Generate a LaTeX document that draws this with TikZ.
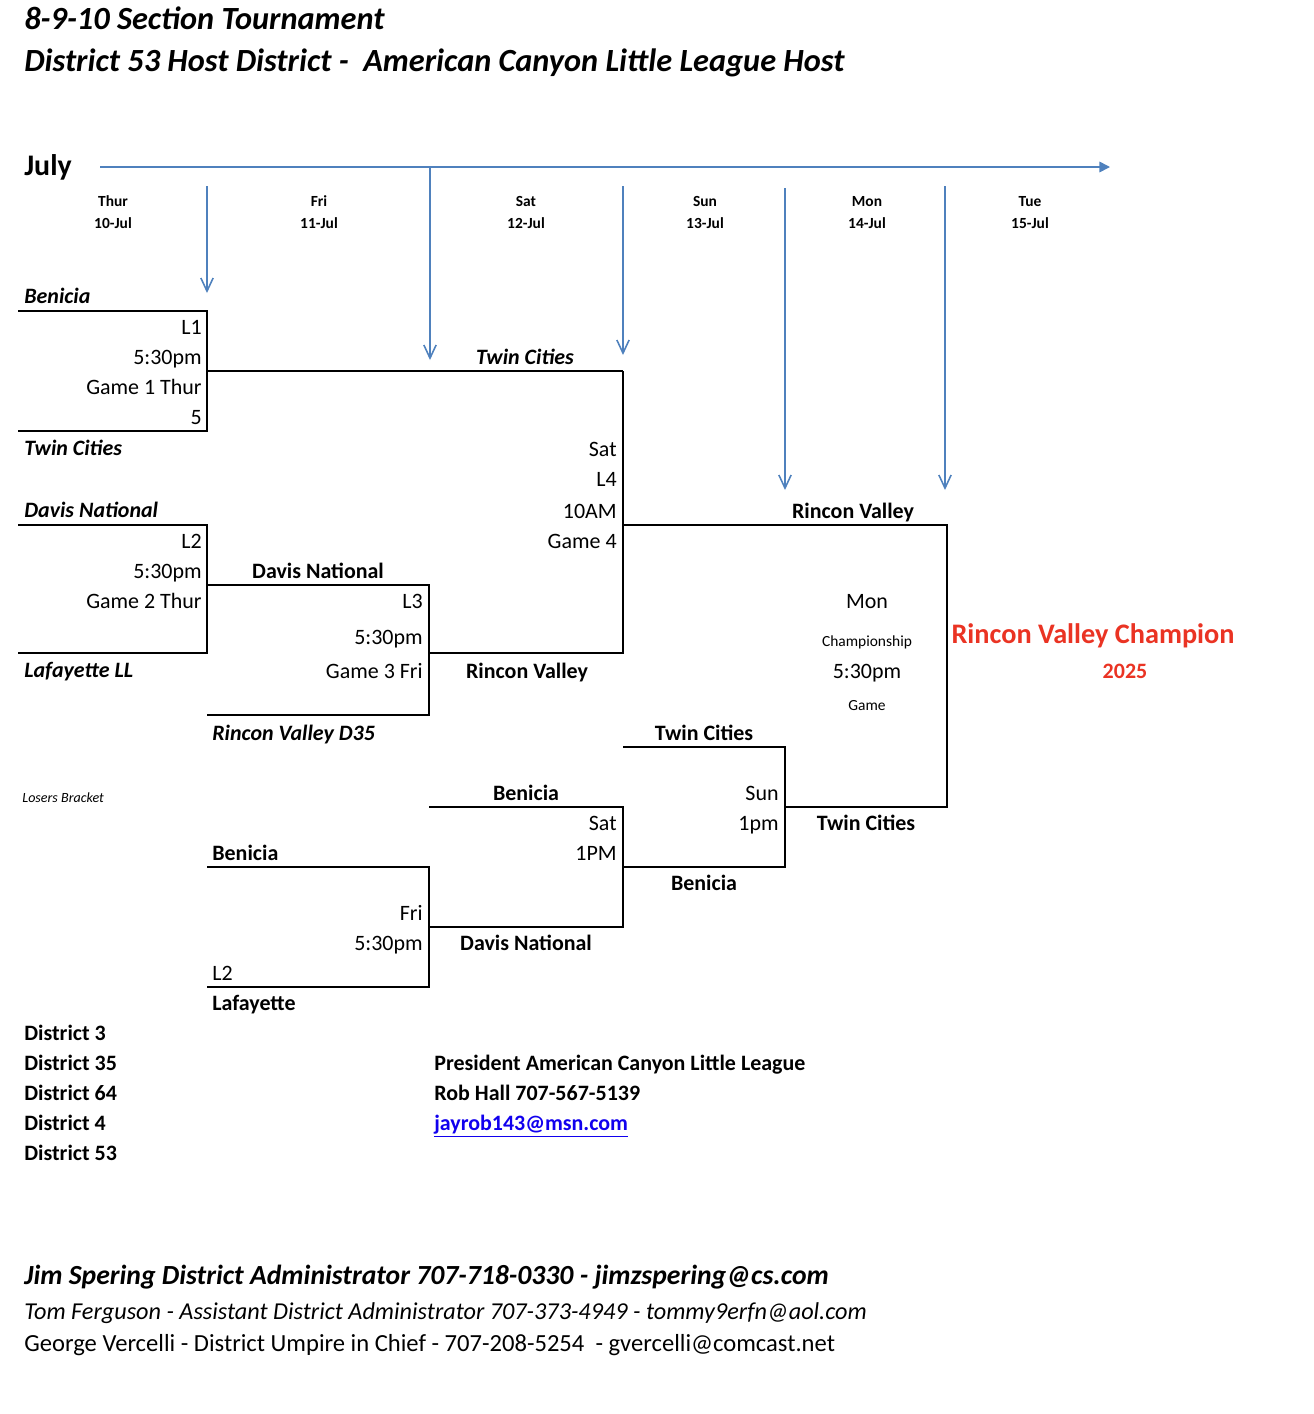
\documentclass[tikz,border=0pt]{standalone}
\usepackage{fontspec}
\setmainfont{Carlito}
\usetikzlibrary{arrows.meta, positioning}
\definecolor{tlblue}{RGB}{79,129,189}
\definecolor{champred}{RGB}{234,51,35}
\definecolor{linkblue}{RGB}{17,0,238}

\begin{document}
\begin{tikzpicture}[x=0.02cm, y=-0.02cm,
    every node/.style={inner sep=0pt, text height=0.82em, text depth=0pt},
    title/.style={font=\fontsize{18.4}{21}\selectfont\bfseries\itshape},
    month/.style={font=\fontsize{17}{20}\selectfont\bfseries},
    day/.style={font=\fontsize{8.8}{10}\selectfont\bfseries},
    txt/.style={font=\fontsize{12.5}{15}\selectfont},
    team/.style={font=\fontsize{12.5}{15}\selectfont\bfseries},
    seed/.style={font=\fontsize{12.5}{15}\selectfont\bfseries\itshape},
    small/.style={font=\fontsize{8.8}{10}\selectfont},
    bracket/.style={line width=1.1pt},
    timeline/.style={draw=tlblue, line width=0.9pt},
    down/.style={timeline, -{Straight Barb[length=7.5pt, width=7pt]}}]
    \useasboundingbox (0,0) rectangle (1314,1414);

    % Title
    \node (title1) [title, anchor=west] at (24,22) {8-9-10 Section Tournament};
    \node (title2) [title, anchor=west] at (24,64) {District 53 Host District -\ \ American Canyon Little League Host};

    % Timeline
    \node (july) [month, anchor=west] at (24,168) {July};
    \coordinate (axisstart) at (100,167);
    \coordinate (axisend) at (1110,167);
    \draw[timeline, -{Triangle[length=6pt, width=6pt]}] (axisstart) -- (axisend);
    \foreach \x/\d/\dt/\nm in {113/Thur/10-Jul/thu, 319/Fri/11-Jul/fri, 526/Sat/12-Jul/sat, 705/Sun/13-Jul/sun, 867/Mon/14-Jul/mon, 1030/Tue/15-Jul/tue} {
        \node (\nm) [day] at (\x,199) {\d};
        \node (\nm date) [day] at (\x,221) {\dt};
    }
    \foreach \x/\a/\b in {207/186/293, 430/167/360, 623/186/355, 785/188/490, 945/186/490}
        \draw[down] (\x,\a) -- (\x,\b);

    % Winners bracket
    \draw[bracket] (18,311) -| (207,431) -- (18,431);
    \draw[bracket] (207,371) -- (623,371);
    \draw[bracket] (18,525) -| (207,653) -- (18,653);
    \draw[bracket] (207,585) -| (429,715) -- (207,715);
    \draw[bracket] (429,653) -| (623,371);
    \draw[bracket] (623,525) -| (947,807) -- (785,807);

    \node (benicia) [seed, anchor=west] at (24,296) {Benicia};
    \node (l1) [txt, anchor=east] at (202,327) {L1};
    \node (g1time) [txt, anchor=east] at (202,357) {5:30pm};
    \node (g1) [txt, anchor=east] at (202,387) {Game 1 Thur};
    \node (g1num) [txt, anchor=east] at (202,417) {5};
    \node (twin) [seed, anchor=west] at (24,448) {Twin Cities};
    \node (g1win) [seed] at (525,357) {Twin Cities};

    \node (davis) [seed, anchor=west] at (24,510) {Davis National};
    \node (l2) [txt, anchor=east] at (202,541) {L2};
    \node (g2time) [txt, anchor=east] at (202,571) {5:30pm};
    \node (g2) [txt, anchor=east] at (202,601) {Game 2 Thur};
    \node (lafayette) [seed, anchor=west] at (24,670) {Lafayette LL};
    \node (g2win) [team] at (318,571) {Davis National};

    \node (l3) [txt, anchor=east] at (423,601) {L3};
    \node (g3time) [txt, anchor=east] at (423,637) {5:30pm};
    \node (g3) [txt, anchor=east] at (423,671) {Game 3 Fri};
    \node (rincon) [seed, anchor=west] at (212,733) {Rincon Valley D35};
    \node (g3win) [team] at (527,671) {Rincon Valley};

    \node (g4day) [txt, anchor=east] at (617,449) {Sat};
    \node (l4) [txt, anchor=east] at (617,479) {L4};
    \node (g4time) [txt, anchor=east] at (617,511) {10AM};
    \node (g4) [txt, anchor=east] at (617,541) {Game 4};
    \node (g4win) [team] at (853,511) {Rincon Valley};

    % Championship
    \node (chday) [txt] at (867,601) {Mon};
    \node (ch) [small] at (867,639) {Championship};
    \node (chtime) [txt] at (867,671) {5:30pm};
    \node (chgame) [small] at (867,703) {Game};
    \node (champ) [font=\fontsize{16.1}{19}\selectfont\bfseries, text=champred] at (1093,636) {Rincon Valley Champion};
    \node (year) [team, text=champred] at (1125,671) {2025};

    % Losers bracket
    \node (losers) [font=\fontsize{8}{10}\selectfont\itshape, anchor=west] at (22,795) {Losers Bracket};
    \draw[bracket] (207,867) -| (429,987) -- (207,987);
    \draw[bracket] (429,807) -| (623,927) -- (429,927);
    \draw[bracket] (623,747) -| (785,867) -- (623,867);

    \node (lb1) [team, anchor=west] at (212,853) {Benicia};
    \node (lfday) [txt, anchor=east] at (423,913) {Fri};
    \node (lftime) [txt, anchor=east] at (423,943) {5:30pm};
    \node (lfl2) [txt, anchor=west] at (212,973) {L2};
    \node (lb2) [team, anchor=west] at (212,1003) {Lafayette};
    \node (lfwin) [team] at (526,943) {Davis National};

    \node (lstop) [team] at (526,793) {Benicia};
    \node (lsday) [txt, anchor=east] at (617,823) {Sat};
    \node (lstime) [txt, anchor=east] at (617,853) {1PM};
    \node (lswin) [team] at (704,883) {Benicia};

    \node (lutop) [team] at (704,733) {Twin Cities};
    \node (luday) [txt, anchor=east] at (779,793) {Sun};
    \node (lutime) [txt, anchor=east] at (779,823) {1pm};
    \node (luwin) [team] at (866,823) {Twin Cities};

    % Districts and contacts
    \foreach \d [count=\i] in {3, 35, 64, 4, 53}
        \node (district\i) [team, anchor=west] at (24,1003+30*\i) {District \d};
    \node (president) [team, anchor=west] at (434,1063) {President American Canyon Little League};
    \node (robhall) [team, anchor=west] at (434,1093) {Rob Hall 707-567-5139};
    \node (email) [team, anchor=west, text=linkblue] at (434,1123) {\underline{jayrob143@msn.com}};

    \node (admin) [font=\fontsize{15.75}{19}\selectfont\bfseries\itshape, anchor=west] at (24,1277) {Jim Spering District Administrator 707-718-0330 - jimzspering@cs.com};
    \node (asst) [font=\fontsize{13.8}{16}\selectfont\itshape, anchor=west] at (24,1312) {Tom Ferguson - Assistant District Administrator 707-373-4949 - tommy9erfn@aol.com};
    \node (umpire) [font=\fontsize{14}{16}\selectfont, anchor=west] at (24,1344) {George Vercelli - District Umpire in Chief - 707-208-5254\ \ - gvercelli@comcast.net};
\end{tikzpicture}
\end{document}
